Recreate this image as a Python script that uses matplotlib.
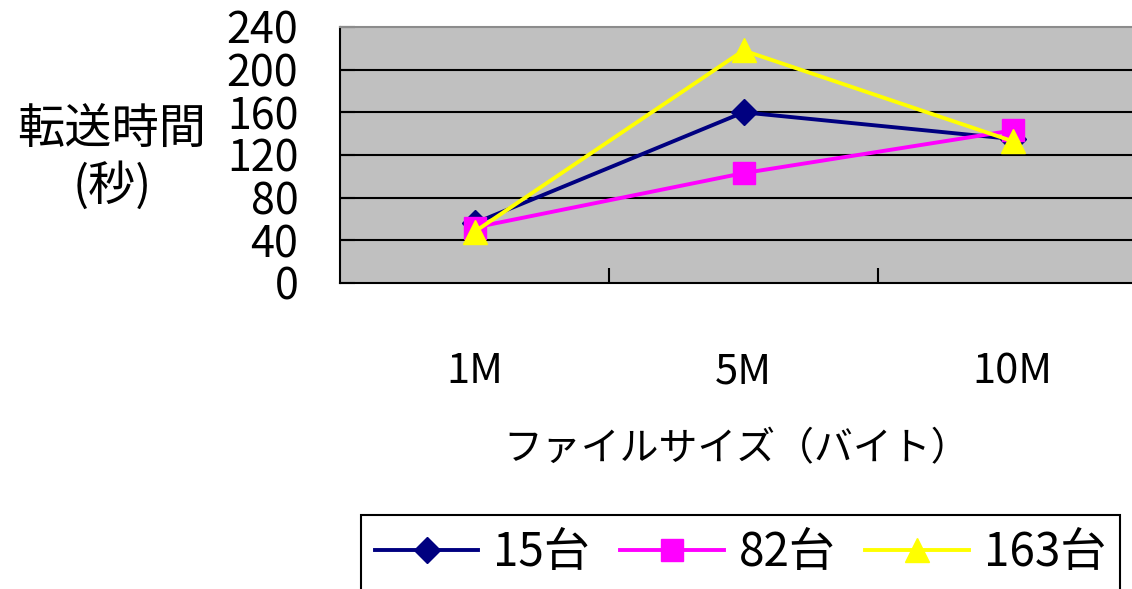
import matplotlib
matplotlib.use("Agg")
import matplotlib.pyplot as plt

plt.rcParams['font.family'] = ['Noto Sans CJK JP', 'DejaVu Sans']

# file size categories and transfer times (seconds)
sizes = ["1M", "5M", "10M"]
series_names = ["15台", "82台", "163台"]
t_15 = [56, 160, 135]
t_82 = [52, 103, 143]
t_163 = [48, 218, 133]
y_ticks = [0, 40, 80, 120, 160, 200, 240]

W, H = 1132, 589
fig = plt.figure(figsize=(W / 100, H / 100), dpi=100)
ax = fig.add_axes([340 / W, 1 - 283 / H, 807 / W, 256 / H])
ax.set_facecolor("#c0c0c0")

x = list(range(len(sizes)))
ax.plot(x, t_15, color="#000080", lw=2.8, marker="D", ms=13, label=series_names[0])
ax.plot(x, t_82, color="#ff00ff", lw=2.8, marker="s", ms=16, label=series_names[1])
ax.plot(x, t_163, color="#ffff00", lw=2.8, marker="^", ms=17, label=series_names[2])

ax.set_xlim(-0.5, len(sizes) - 0.5)
ax.set_ylim(0, 240)
ax.set_yticks(y_ticks)
ax.tick_params(axis="y", direction="in", length=11, width=1.5, labelsize=31, pad=30)

# horizontal grid, but not on the top/bottom edges
ax.yaxis.grid(True, color="black", lw=1.5)
ax.set_axisbelow(True)
gl = ax.get_ygridlines()
gl[0].set_visible(False)
gl[-1].set_visible(False)

ax.set_xticks(x)
ax.set_xticklabels(sizes)
ax.tick_params(axis="x", which="major", length=0, labelsize=30, pad=49)
ax.set_xticks([0.5, 1.5], minor=True)
ax.tick_params(axis="x", which="minor", direction="in", length=11, width=1.5)

for s in ["left", "bottom"]:
    ax.spines[s].set_color("black")
    ax.spines[s].set_linewidth(1.5)
ax.spines["top"].set_color("#8c8c8c")
ax.spines["top"].set_linewidth(1.5)
ax.spines["right"].set_color("#8c8c8c")

ax.set_xlabel("ファイルサイズ（バイト）", fontsize=28, va="center")
ax.xaxis.set_label_coords((737 - 340) / 807, -(449 - 283) / 256)
ax.set_ylabel("転送時間\n(秒)", fontsize=34, rotation=0, ha="center", va="center",
              linespacing=1.2)
ax.yaxis.set_label_coords((112 - 340) / 807, (283 - 158) / 256)

leg = fig.legend(loc="upper left", bbox_to_anchor=(361 / W, 1 - 515 / H), ncol=3,
                 frameon=True, fancybox=False, edgecolor="black", framealpha=1,
                 fontsize=33, handlelength=2.26, handletextpad=0.33,
                 columnspacing=0.65, borderpad=0.3, borderaxespad=0)
leg.get_frame().set_linewidth(1.5)

fig.savefig("out.png", dpi=100)
